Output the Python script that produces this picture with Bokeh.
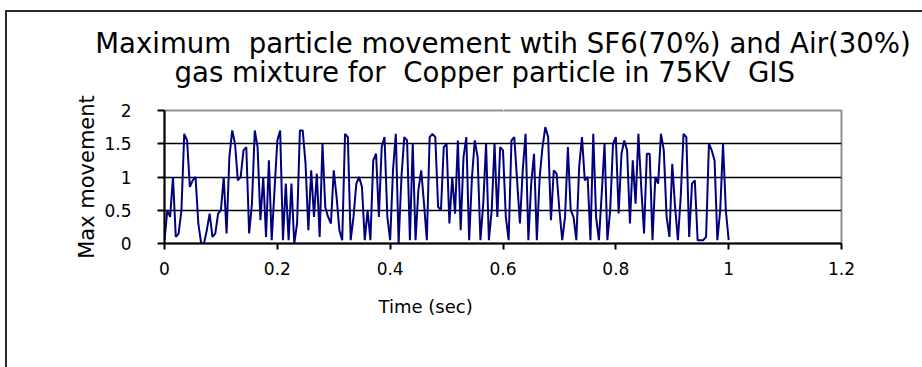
from bokeh.plotting import figure
from bokeh.models import Range1d, FixedTicker, Title, LinearAxis
from bokeh.embed import file_html
from bokeh.resources import INLINE

# Sampled maximum particle movement, one value every 5 ms from 0 to 1 s
dt = 0.005
movement = [
    0.05, 0.5, 0.4, 1.0, 0.1, 0.15, 0.5, 1.65, 1.55, 0.85,
    0.95, 1.0, 0.3, 0.0, 0.0, 0.2, 0.45, 0.1, 0.15, 0.45,
    0.5, 1.0, 0.15, 1.3, 1.7, 1.5, 0.95, 1.0, 1.4, 1.45,
    0.15, 0.6, 1.7, 1.45, 0.35, 1.0, 0.1, 1.25, 0.05, 0.8,
    1.55, 1.7, 0.05, 0.9, 0.05, 0.9, 0.0, 0.3, 1.7, 1.7,
    1.2, 0.2, 1.1, 0.4, 1.05, 0.1, 1.5, 0.55, 0.4, 0.3,
    1.1, 0.7, 0.2, 0.05, 1.65, 1.6, 0.05, 0.4, 0.9, 1.0,
    0.85, 0.05, 0.5, 0.05, 1.25, 1.35, 0.4, 1.45, 1.6, 0.4,
    0.05, 1.1, 1.65, 0.0, 1.0, 1.6, 1.55, 0.05, 1.5, 0.05,
    0.8, 1.1, 0.6, 0.05, 1.6, 1.65, 1.6, 0.55, 0.5, 1.45,
    1.5, 0.3, 1.0, 0.45, 1.55, 0.2, 1.3, 1.6, 0.05, 1.0,
    1.55, 1.3, 0.05, 0.6, 1.5, 0.05, 0.5, 1.5, 0.4, 1.45,
    1.4, 0.4, 0.05, 1.55, 1.6, 0.95, 0.3, 1.1, 1.65, 0.05,
    0.9, 1.35, 0.05, 1.0, 1.45, 1.75, 1.6, 0.35, 1.1, 1.05,
    0.5, 0.05, 0.4, 1.45, 0.5, 0.4, 0.05, 1.15, 1.6, 0.95,
    1.0, 0.05, 1.65, 0.4, 0.05, 0.75, 1.5, 0.05, 0.5, 1.5,
    1.6, 0.45, 1.35, 1.55, 1.4, 0.3, 1.25, 0.6, 1.65, 0.85,
    0.15, 1.35, 1.35, 0.05, 1.0, 0.9, 1.65, 1.4, 0.4, 0.1,
    1.2, 0.55, 0.05, 0.7, 1.65, 1.6, 0.1, 0.9, 0.95, 0.05,
    0.05, 0.05, 0.1, 1.5, 1.4, 1.25, 0.05, 0.5, 1.5, 0.5,
    0.05, 0.9,
]
time_sec = [round(i * dt, 3) for i in range(len(movement) - 1)]
movement = movement[: len(time_sec)]

x_ticks = [0, 0.2, 0.4, 0.6, 0.8, 1.0, 1.2]
x_tick_labels = ["0", "0.2", "0.4", "0.6", "0.8", "1", "1.2"]
y_ticks = [0, 0.5, 1.0, 1.5, 2.0]
y_tick_labels = ["0", "0.5", "1", "1.5", "2"]

# double spaces kept visible with a no-break space
title_lines = [
    "Maximum\u00a0 particle movement wtih SF6(70%) and Air(30%)",
    "gas mixture for\u00a0 Copper particle in 75KV\u00a0 GIS",
]
x_title = "Time (sec)"
y_title = "Max movement"

FONT = "DejaVu Sans"

p = figure(
    width=915, height=355,
    frame_width=677, frame_height=133,
    min_border_left=157, min_border_top=98,
    min_border_right=81, min_border_bottom=124,
    x_range=Range1d(0, 1.2), y_range=Range1d(0, 2),
    output_backend="svg", toolbar_location=None,
)
p.margin = (10, 0, 0, 5)
p.styles = {"border-top": "2px solid #2a2a2a", "border-left": "2px solid #2a2a2a"}
p.background_fill_color = "white"
p.border_fill_color = "white"
p.outline_line_color = "#8f8f8f"
p.outline_line_width = 2

# axes
p.xaxis.ticker = FixedTicker(ticks=x_ticks)
p.xaxis.major_label_overrides = dict(zip(x_ticks, x_tick_labels))
p.yaxis.ticker = FixedTicker(ticks=y_ticks)
p.yaxis.major_label_overrides = dict(zip(y_ticks, y_tick_labels))
for ax in (p.xaxis, p.yaxis):
    ax.axis_line_color = "black"
    ax.axis_line_width = 2
    ax.major_tick_line_color = "black"
    ax.major_tick_line_width = 2
    ax.major_tick_in = 0
    ax.minor_tick_line_color = None
    ax.major_label_text_font = FONT
    ax.major_label_text_font_size = "17px"
    ax.major_label_text_color = "black"
p.xaxis.major_tick_out = 6
p.yaxis.major_tick_out = 7
p.xaxis.major_label_standoff = 12
p.yaxis.major_label_standoff = 26

p.yaxis.axis_label = y_title
p.yaxis.axis_label_text_font = FONT
p.yaxis.axis_label_text_font_size = "21px"
p.yaxis.axis_label_text_font_style = "normal"
p.yaxis.axis_label_text_color = "black"
p.yaxis.axis_label_standoff = 2

# grid: horizontal black lines only
p.xgrid.grid_line_color = None
p.ygrid.ticker = FixedTicker(ticks=[0.5, 1.0, 1.5])
p.ygrid.grid_line_color = "black"
p.ygrid.grid_line_width = 1.5

p.line(time_sec, movement, line_color="#00007f", line_width=2)

# blank top axis (one white tick, no label) keeps a gap above the plot area
gap = LinearAxis(ticker=FixedTicker(ticks=[0.6]),
                 major_label_overrides={0.6: ""},
                 axis_line_color=None, major_tick_line_color="white",
                 minor_tick_line_color=None, major_tick_line_width=1,
                 major_tick_out=22, major_tick_in=0, minor_tick_out=0,
                 major_label_standoff=0)
p.add_layout(gap, "above")

# two-line chart title
p.add_layout(Title(text=title_lines[1], align="left", offset=10,
                   text_font=FONT, text_font_size="27.6px",
                   text_font_style="normal", text_color="black",
                   standoff=0), "above")
p.add_layout(Title(text=title_lines[0], align="center",
                   text_font=FONT, text_font_size="27.6px",
                   text_font_style="normal", text_color="black",
                   standoff=-12), "above")

# x-axis title, placed left of centre under the axis
p.add_layout(Title(text=x_title, align="left", offset=214,
                   text_font=FONT, text_font_size="18px",
                   text_font_style="normal", text_color="black",
                   vertical_align="top", standoff=36), "below")

open("out.html", "w").write(file_html(p, INLINE))
